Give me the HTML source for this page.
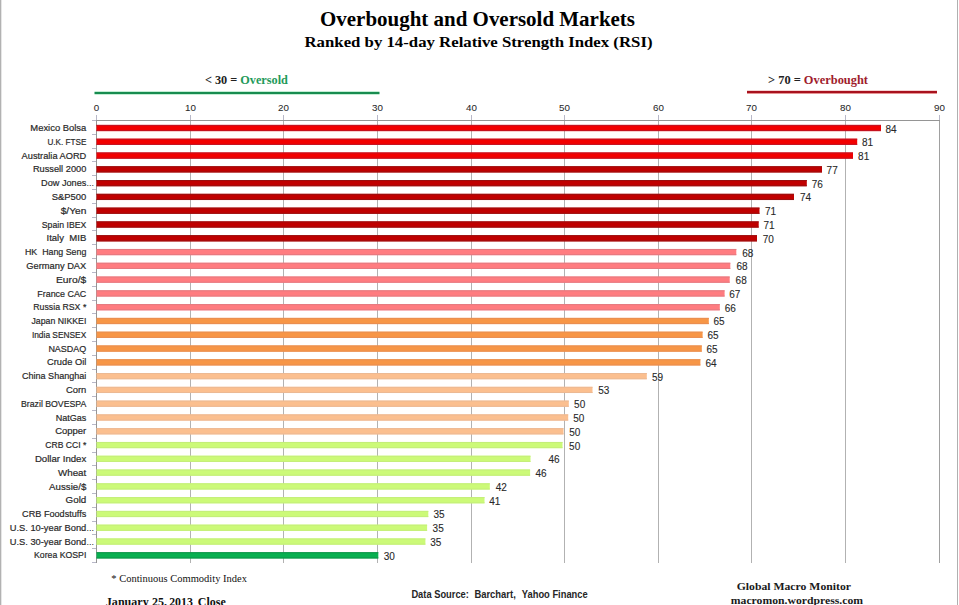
<!DOCTYPE html><html><head><meta charset="utf-8"><style>html,body{margin:0;padding:0;background:#fff;}svg{display:block;}</style></head><body>
<svg style="white-space:pre" width="959" height="605" viewBox="0 0 959 605">
<rect x="0" y="0" width="959" height="605" fill="#fff"/>
<rect x="0" y="0" width="1" height="605" fill="#b2b2b2"/>
<rect x="1" y="0" width="1" height="605" fill="#e6e6e6"/>
<rect x="957" y="0" width="1" height="605" fill="#b0b0b0"/>
<text x="320" y="26.4" font-family="Liberation Serif, serif" font-weight="bold" font-size="21.5" fill="#000" textLength="315" lengthAdjust="spacingAndGlyphs">Overbought and Oversold Markets</text>
<text x="304.5" y="46.6" font-family="Liberation Serif, serif" font-weight="bold" font-size="15.3" fill="#000" textLength="348" lengthAdjust="spacingAndGlyphs">Ranked by 14-day Relative Strength Index (RSI)</text>
<text x="204.9" y="83.7" font-family="Liberation Serif, serif" font-weight="bold" font-size="12.5" fill="#222" textLength="83" lengthAdjust="spacingAndGlyphs">&lt; 30 = <tspan fill="#1e9a5a">Oversold</tspan></text>
<rect x="94.5" y="91" width="285" height="1" fill="#c4eed4"/>
<rect x="94.5" y="94" width="285" height="1" fill="#c4eed4"/>
<rect x="94.5" y="92" width="285" height="2" fill="#188c50"/>
<text x="768" y="83.7" font-family="Liberation Serif, serif" font-weight="bold" font-size="12.5" fill="#222" textLength="100" lengthAdjust="spacingAndGlyphs">&gt; 70 = <tspan fill="#a01c2c">Overbought</tspan></text>
<rect x="747" y="90" width="190" height="1" fill="#f4d4d4"/>
<rect x="747" y="93" width="190" height="1" fill="#e69494"/>
<rect x="747" y="91" width="190" height="2" fill="#a8121e"/>
<rect x="96" y="115" width="1" height="6" fill="#b8b8c8"/>
<rect x="96" y="121" width="1" height="442" fill="#959595"/>
<text x="96.50" y="110.9" font-family="Liberation Sans, sans-serif" font-size="9.8" fill="#282828" stroke="#282828" stroke-width="0.05" text-anchor="middle">0</text>
<rect x="190" y="115" width="1" height="6" fill="#b8b8c8"/>
<rect x="190" y="121" width="1" height="442" fill="#b2b2b2"/>
<text x="190.50" y="110.9" font-family="Liberation Sans, sans-serif" font-size="9.8" fill="#282828" stroke="#282828" stroke-width="0.05" text-anchor="middle">10</text>
<rect x="283" y="115" width="1" height="6" fill="#b8b8c8"/>
<rect x="283" y="121" width="1" height="442" fill="#b2b2b2"/>
<text x="283.50" y="110.9" font-family="Liberation Sans, sans-serif" font-size="9.8" fill="#282828" stroke="#282828" stroke-width="0.05" text-anchor="middle">20</text>
<rect x="377" y="115" width="1" height="6" fill="#b8b8c8"/>
<rect x="377" y="121" width="1" height="442" fill="#b2b2b2"/>
<text x="377.50" y="110.9" font-family="Liberation Sans, sans-serif" font-size="9.8" fill="#282828" stroke="#282828" stroke-width="0.05" text-anchor="middle">30</text>
<rect x="471" y="115" width="1" height="6" fill="#b8b8c8"/>
<rect x="471" y="121" width="1" height="442" fill="#b2b2b2"/>
<text x="471.50" y="110.9" font-family="Liberation Sans, sans-serif" font-size="9.8" fill="#282828" stroke="#282828" stroke-width="0.05" text-anchor="middle">40</text>
<rect x="564" y="115" width="1" height="6" fill="#b8b8c8"/>
<rect x="564" y="121" width="1" height="442" fill="#b2b2b2"/>
<text x="564.50" y="110.9" font-family="Liberation Sans, sans-serif" font-size="9.8" fill="#282828" stroke="#282828" stroke-width="0.05" text-anchor="middle">50</text>
<rect x="658" y="115" width="1" height="6" fill="#b8b8c8"/>
<rect x="658" y="121" width="1" height="442" fill="#b2b2b2"/>
<text x="658.50" y="110.9" font-family="Liberation Sans, sans-serif" font-size="9.8" fill="#282828" stroke="#282828" stroke-width="0.05" text-anchor="middle">60</text>
<rect x="751" y="115" width="1" height="6" fill="#b8b8c8"/>
<rect x="751" y="121" width="1" height="442" fill="#b2b2b2"/>
<text x="751.50" y="110.9" font-family="Liberation Sans, sans-serif" font-size="9.8" fill="#282828" stroke="#282828" stroke-width="0.05" text-anchor="middle">70</text>
<rect x="845" y="115" width="1" height="6" fill="#b8b8c8"/>
<rect x="845" y="121" width="1" height="442" fill="#b2b2b2"/>
<text x="845.50" y="110.9" font-family="Liberation Sans, sans-serif" font-size="9.8" fill="#282828" stroke="#282828" stroke-width="0.05" text-anchor="middle">80</text>
<rect x="939" y="115" width="1" height="6" fill="#b8b8c8"/>
<rect x="939" y="121" width="1" height="442" fill="#a0a0a0"/>
<text x="939.50" y="110.9" font-family="Liberation Sans, sans-serif" font-size="9.8" fill="#282828" stroke="#282828" stroke-width="0.05" text-anchor="middle">90</text>
<rect x="92" y="120" width="848" height="1" fill="#959595"/>
<rect x="92" y="120" width="4" height="1" fill="#b8b8c8"/>
<rect x="92" y="134" width="4" height="1" fill="#b8b8c8"/>
<rect x="92" y="148" width="4" height="1" fill="#b8b8c8"/>
<rect x="92" y="161" width="4" height="1" fill="#b8b8c8"/>
<rect x="92" y="175" width="4" height="1" fill="#b8b8c8"/>
<rect x="92" y="189" width="4" height="1" fill="#b8b8c8"/>
<rect x="92" y="203" width="4" height="1" fill="#b8b8c8"/>
<rect x="92" y="217" width="4" height="1" fill="#b8b8c8"/>
<rect x="92" y="230" width="4" height="1" fill="#b8b8c8"/>
<rect x="92" y="244" width="4" height="1" fill="#b8b8c8"/>
<rect x="92" y="258" width="4" height="1" fill="#b8b8c8"/>
<rect x="92" y="272" width="4" height="1" fill="#b8b8c8"/>
<rect x="92" y="286" width="4" height="1" fill="#b8b8c8"/>
<rect x="92" y="300" width="4" height="1" fill="#b8b8c8"/>
<rect x="92" y="313" width="4" height="1" fill="#b8b8c8"/>
<rect x="92" y="327" width="4" height="1" fill="#b8b8c8"/>
<rect x="92" y="341" width="4" height="1" fill="#b8b8c8"/>
<rect x="92" y="355" width="4" height="1" fill="#b8b8c8"/>
<rect x="92" y="369" width="4" height="1" fill="#b8b8c8"/>
<rect x="92" y="382" width="4" height="1" fill="#b8b8c8"/>
<rect x="92" y="396" width="4" height="1" fill="#b8b8c8"/>
<rect x="92" y="410" width="4" height="1" fill="#b8b8c8"/>
<rect x="92" y="424" width="4" height="1" fill="#b8b8c8"/>
<rect x="92" y="438" width="4" height="1" fill="#b8b8c8"/>
<rect x="92" y="452" width="4" height="1" fill="#b8b8c8"/>
<rect x="92" y="465" width="4" height="1" fill="#b8b8c8"/>
<rect x="92" y="479" width="4" height="1" fill="#b8b8c8"/>
<rect x="92" y="493" width="4" height="1" fill="#b8b8c8"/>
<rect x="92" y="507" width="4" height="1" fill="#b8b8c8"/>
<rect x="92" y="521" width="4" height="1" fill="#b8b8c8"/>
<rect x="92" y="534" width="4" height="1" fill="#b8b8c8"/>
<rect x="92" y="548" width="4" height="1" fill="#b8b8c8"/>
<rect x="92" y="562" width="4" height="1" fill="#b8b8c8"/>
<rect x="96.5" y="124.90" width="784.50" height="6.2" fill="#f20000"/>
<rect x="96.5" y="124.90" width="784.50" height="1" fill="#c01424"/>
<rect x="96.5" y="130.10" width="784.50" height="1" fill="#c01424"/>
<text x="30.3" y="131.10" font-family="Liberation Sans, sans-serif" font-size="9.5" fill="#282828" stroke="#282828" stroke-width="0.2" textLength="56.0" lengthAdjust="spacingAndGlyphs">Mexico Bolsa</text>
<text x="885.5" y="132.50" font-family="Liberation Sans, sans-serif" font-size="10" fill="#282828" stroke="#282828" stroke-width="0.1">84</text>
<rect x="96.5" y="138.69" width="760.70" height="6.2" fill="#f20000"/>
<rect x="96.5" y="138.69" width="760.70" height="1" fill="#c01424"/>
<rect x="96.5" y="143.88" width="760.70" height="1" fill="#c01424"/>
<text x="47.5" y="144.88" font-family="Liberation Sans, sans-serif" font-size="9.5" fill="#282828" stroke="#282828" stroke-width="0.2" textLength="38.8" lengthAdjust="spacingAndGlyphs">U.K. FTSE</text>
<text x="862.0" y="146.28" font-family="Liberation Sans, sans-serif" font-size="10" fill="#282828" stroke="#282828" stroke-width="0.1">81</text>
<rect x="96.5" y="152.47" width="756.50" height="6.2" fill="#f20000"/>
<rect x="96.5" y="152.47" width="756.50" height="1" fill="#c01424"/>
<rect x="96.5" y="157.67" width="756.50" height="1" fill="#c01424"/>
<text x="21.6" y="158.67" font-family="Liberation Sans, sans-serif" font-size="9.5" fill="#282828" stroke="#282828" stroke-width="0.2" textLength="64.7" lengthAdjust="spacingAndGlyphs">Australia AORD</text>
<text x="858.1" y="160.07" font-family="Liberation Sans, sans-serif" font-size="10" fill="#282828" stroke="#282828" stroke-width="0.1">81</text>
<rect x="96.5" y="166.25" width="725.50" height="6.2" fill="#c00000"/>
<rect x="96.5" y="166.25" width="725.50" height="1" fill="#9a1010"/>
<rect x="96.5" y="171.45" width="725.50" height="1" fill="#9a1010"/>
<text x="32.9" y="172.45" font-family="Liberation Sans, sans-serif" font-size="9.5" fill="#282828" stroke="#282828" stroke-width="0.2" textLength="53.4" lengthAdjust="spacingAndGlyphs">Russell 2000</text>
<text x="826.6" y="173.85" font-family="Liberation Sans, sans-serif" font-size="10" fill="#282828" stroke="#282828" stroke-width="0.1">77</text>
<rect x="96.5" y="180.04" width="710.30" height="6.2" fill="#c00000"/>
<rect x="96.5" y="180.04" width="710.30" height="1" fill="#9a1010"/>
<rect x="96.5" y="185.24" width="710.30" height="1" fill="#9a1010"/>
<text x="41.1" y="186.24" font-family="Liberation Sans, sans-serif" font-size="9.5" fill="#282828" stroke="#282828" stroke-width="0.2" textLength="45.2" lengthAdjust="spacingAndGlyphs">Dow Jones</text>
<text x="86.5" y="186.24" font-family="Liberation Sans, sans-serif" font-size="9" fill="#282828">...</text>
<text x="811.8" y="187.64" font-family="Liberation Sans, sans-serif" font-size="10" fill="#282828" stroke="#282828" stroke-width="0.1">76</text>
<rect x="96.5" y="193.82" width="697.50" height="6.2" fill="#c00000"/>
<rect x="96.5" y="193.82" width="697.50" height="1" fill="#9a1010"/>
<rect x="96.5" y="199.02" width="697.50" height="1" fill="#9a1010"/>
<text x="51.7" y="200.02" font-family="Liberation Sans, sans-serif" font-size="9.5" fill="#282828" stroke="#282828" stroke-width="0.2" textLength="34.6" lengthAdjust="spacingAndGlyphs">S&amp;P500</text>
<text x="799.9" y="201.42" font-family="Liberation Sans, sans-serif" font-size="10" fill="#282828" stroke="#282828" stroke-width="0.1">74</text>
<rect x="96.5" y="207.61" width="663.00" height="6.2" fill="#c00000"/>
<rect x="96.5" y="207.61" width="663.00" height="1" fill="#9a1010"/>
<rect x="96.5" y="212.81" width="663.00" height="1" fill="#9a1010"/>
<text x="60.7" y="213.81" font-family="Liberation Sans, sans-serif" font-size="9.5" fill="#282828" stroke="#282828" stroke-width="0.2" textLength="25.6" lengthAdjust="spacingAndGlyphs">$/Yen</text>
<text x="764.9" y="215.21" font-family="Liberation Sans, sans-serif" font-size="10" fill="#282828" stroke="#282828" stroke-width="0.1">71</text>
<rect x="96.5" y="221.40" width="662.20" height="6.2" fill="#c00000"/>
<rect x="96.5" y="221.40" width="662.20" height="1" fill="#9a1010"/>
<rect x="96.5" y="226.59" width="662.20" height="1" fill="#9a1010"/>
<text x="41.8" y="227.59" font-family="Liberation Sans, sans-serif" font-size="9.5" fill="#282828" stroke="#282828" stroke-width="0.2" textLength="44.5" lengthAdjust="spacingAndGlyphs">Spain IBEX</text>
<text x="763.5" y="229.00" font-family="Liberation Sans, sans-serif" font-size="10" fill="#282828" stroke="#282828" stroke-width="0.1">71</text>
<rect x="96.5" y="235.18" width="660.50" height="6.2" fill="#c00000"/>
<rect x="96.5" y="235.18" width="660.50" height="1" fill="#9a1010"/>
<rect x="96.5" y="240.38" width="660.50" height="1" fill="#9a1010"/>
<text x="46.5" y="241.38" font-family="Liberation Sans, sans-serif" font-size="9.5" fill="#282828" stroke="#282828" stroke-width="0.2" textLength="39.8" lengthAdjust="spacingAndGlyphs">Italy&#160; MIB</text>
<text x="762.7" y="242.78" font-family="Liberation Sans, sans-serif" font-size="10" fill="#282828" stroke="#282828" stroke-width="0.1">70</text>
<rect x="96.5" y="248.97" width="639.80" height="6.2" fill="#ff7c80"/>
<rect x="96.5" y="248.97" width="639.80" height="1" fill="#e47a80"/>
<rect x="96.5" y="254.16" width="639.80" height="1" fill="#e47a80"/>
<text x="25.0" y="255.16" font-family="Liberation Sans, sans-serif" font-size="9.5" fill="#282828" stroke="#282828" stroke-width="0.2" textLength="61.3" lengthAdjust="spacingAndGlyphs">HK&#160; Hang Seng</text>
<text x="742.3" y="256.56" font-family="Liberation Sans, sans-serif" font-size="10" fill="#282828" stroke="#282828" stroke-width="0.1">68</text>
<rect x="96.5" y="262.75" width="633.80" height="6.2" fill="#ff7c80"/>
<rect x="96.5" y="262.75" width="633.80" height="1" fill="#e47a80"/>
<rect x="96.5" y="267.95" width="633.80" height="1" fill="#e47a80"/>
<text x="26.3" y="268.95" font-family="Liberation Sans, sans-serif" font-size="9.5" fill="#282828" stroke="#282828" stroke-width="0.2" textLength="60.0" lengthAdjust="spacingAndGlyphs">Germany DAX</text>
<text x="736.5" y="270.35" font-family="Liberation Sans, sans-serif" font-size="10" fill="#282828" stroke="#282828" stroke-width="0.1">68</text>
<rect x="96.5" y="276.53" width="633.20" height="6.2" fill="#ff7c80"/>
<rect x="96.5" y="276.53" width="633.20" height="1" fill="#e47a80"/>
<rect x="96.5" y="281.73" width="633.20" height="1" fill="#e47a80"/>
<text x="56.0" y="282.73" font-family="Liberation Sans, sans-serif" font-size="9.5" fill="#282828" stroke="#282828" stroke-width="0.2" textLength="30.3" lengthAdjust="spacingAndGlyphs">Euro/$</text>
<text x="735.6" y="284.13" font-family="Liberation Sans, sans-serif" font-size="10" fill="#282828" stroke="#282828" stroke-width="0.1">68</text>
<rect x="96.5" y="290.32" width="628.10" height="6.2" fill="#ff7c80"/>
<rect x="96.5" y="290.32" width="628.10" height="1" fill="#e47a80"/>
<rect x="96.5" y="295.52" width="628.10" height="1" fill="#e47a80"/>
<text x="37.3" y="296.52" font-family="Liberation Sans, sans-serif" font-size="9.5" fill="#282828" stroke="#282828" stroke-width="0.2" textLength="49.0" lengthAdjust="spacingAndGlyphs">France CAC</text>
<text x="729.3" y="297.92" font-family="Liberation Sans, sans-serif" font-size="10" fill="#282828" stroke="#282828" stroke-width="0.1">67</text>
<rect x="96.5" y="304.11" width="623.30" height="6.2" fill="#ff7c80"/>
<rect x="96.5" y="304.11" width="623.30" height="1" fill="#e47a80"/>
<rect x="96.5" y="309.31" width="623.30" height="1" fill="#e47a80"/>
<text x="33.3" y="310.31" font-family="Liberation Sans, sans-serif" font-size="9.5" fill="#282828" stroke="#282828" stroke-width="0.2" textLength="53.0" lengthAdjust="spacingAndGlyphs">Russia RSX *</text>
<text x="724.7" y="311.71" font-family="Liberation Sans, sans-serif" font-size="10" fill="#282828" stroke="#282828" stroke-width="0.1">66</text>
<rect x="96.5" y="317.89" width="612.30" height="6.2" fill="#f79646"/>
<rect x="96.5" y="317.89" width="612.30" height="1" fill="#e88e52"/>
<rect x="96.5" y="323.09" width="612.30" height="1" fill="#e88e52"/>
<text x="31.5" y="324.09" font-family="Liberation Sans, sans-serif" font-size="9.5" fill="#282828" stroke="#282828" stroke-width="0.2" textLength="54.8" lengthAdjust="spacingAndGlyphs">Japan NIKKEI</text>
<text x="713.5" y="325.49" font-family="Liberation Sans, sans-serif" font-size="10" fill="#282828" stroke="#282828" stroke-width="0.1">65</text>
<rect x="96.5" y="331.68" width="606.10" height="6.2" fill="#f79646"/>
<rect x="96.5" y="331.68" width="606.10" height="1" fill="#e88e52"/>
<rect x="96.5" y="336.88" width="606.10" height="1" fill="#e88e52"/>
<text x="31.9" y="337.88" font-family="Liberation Sans, sans-serif" font-size="9.5" fill="#282828" stroke="#282828" stroke-width="0.2" textLength="54.4" lengthAdjust="spacingAndGlyphs">India SENSEX</text>
<text x="707.4" y="339.28" font-family="Liberation Sans, sans-serif" font-size="10" fill="#282828" stroke="#282828" stroke-width="0.1">65</text>
<rect x="96.5" y="345.46" width="605.30" height="6.2" fill="#f79646"/>
<rect x="96.5" y="345.46" width="605.30" height="1" fill="#e88e52"/>
<rect x="96.5" y="350.66" width="605.30" height="1" fill="#e88e52"/>
<text x="48.4" y="351.66" font-family="Liberation Sans, sans-serif" font-size="9.5" fill="#282828" stroke="#282828" stroke-width="0.2" textLength="37.9" lengthAdjust="spacingAndGlyphs">NASDAQ</text>
<text x="706.4" y="353.06" font-family="Liberation Sans, sans-serif" font-size="10" fill="#282828" stroke="#282828" stroke-width="0.1">65</text>
<rect x="96.5" y="359.25" width="603.90" height="6.2" fill="#f79646"/>
<rect x="96.5" y="359.25" width="603.90" height="1" fill="#e88e52"/>
<rect x="96.5" y="364.44" width="603.90" height="1" fill="#e88e52"/>
<text x="47.0" y="365.44" font-family="Liberation Sans, sans-serif" font-size="9.5" fill="#282828" stroke="#282828" stroke-width="0.2" textLength="39.3" lengthAdjust="spacingAndGlyphs">Crude Oil</text>
<text x="705.4" y="366.85" font-family="Liberation Sans, sans-serif" font-size="10" fill="#282828" stroke="#282828" stroke-width="0.1">64</text>
<rect x="96.5" y="373.03" width="550.30" height="6.2" fill="#fbbf8f"/>
<rect x="96.5" y="373.03" width="550.30" height="1" fill="#ecb994"/>
<rect x="96.5" y="378.23" width="550.30" height="1" fill="#ecb994"/>
<text x="22.0" y="379.23" font-family="Liberation Sans, sans-serif" font-size="9.5" fill="#282828" stroke="#282828" stroke-width="0.2" textLength="64.3" lengthAdjust="spacingAndGlyphs">China Shanghai</text>
<text x="651.9" y="380.63" font-family="Liberation Sans, sans-serif" font-size="10" fill="#282828" stroke="#282828" stroke-width="0.1">59</text>
<rect x="96.5" y="386.82" width="496.00" height="6.2" fill="#fbbf8f"/>
<rect x="96.5" y="386.82" width="496.00" height="1" fill="#ecb994"/>
<rect x="96.5" y="392.02" width="496.00" height="1" fill="#ecb994"/>
<text x="65.9" y="393.02" font-family="Liberation Sans, sans-serif" font-size="9.5" fill="#282828" stroke="#282828" stroke-width="0.2" textLength="20.4" lengthAdjust="spacingAndGlyphs">Corn</text>
<text x="598.3" y="394.42" font-family="Liberation Sans, sans-serif" font-size="10" fill="#282828" stroke="#282828" stroke-width="0.1">53</text>
<rect x="96.5" y="400.60" width="472.30" height="6.2" fill="#fbbf8f"/>
<rect x="96.5" y="400.60" width="472.30" height="1" fill="#ecb994"/>
<rect x="96.5" y="405.80" width="472.30" height="1" fill="#ecb994"/>
<text x="21.0" y="406.80" font-family="Liberation Sans, sans-serif" font-size="9.5" fill="#282828" stroke="#282828" stroke-width="0.2" textLength="65.3" lengthAdjust="spacingAndGlyphs">Brazil BOVESPA</text>
<text x="574.1" y="408.20" font-family="Liberation Sans, sans-serif" font-size="10" fill="#282828" stroke="#282828" stroke-width="0.1">50</text>
<rect x="96.5" y="414.38" width="471.70" height="6.2" fill="#fbbf8f"/>
<rect x="96.5" y="414.38" width="471.70" height="1" fill="#ecb994"/>
<rect x="96.5" y="419.58" width="471.70" height="1" fill="#ecb994"/>
<text x="55.7" y="420.58" font-family="Liberation Sans, sans-serif" font-size="9.5" fill="#282828" stroke="#282828" stroke-width="0.2" textLength="30.6" lengthAdjust="spacingAndGlyphs">NatGas</text>
<text x="573.2" y="421.99" font-family="Liberation Sans, sans-serif" font-size="10" fill="#282828" stroke="#282828" stroke-width="0.1">50</text>
<rect x="96.5" y="428.17" width="467.00" height="6.2" fill="#fbbf8f"/>
<rect x="96.5" y="428.17" width="467.00" height="1" fill="#ecb994"/>
<rect x="96.5" y="433.37" width="467.00" height="1" fill="#ecb994"/>
<text x="55.2" y="434.37" font-family="Liberation Sans, sans-serif" font-size="9.5" fill="#282828" stroke="#282828" stroke-width="0.2" textLength="31.1" lengthAdjust="spacingAndGlyphs">Copper</text>
<text x="569.3" y="435.77" font-family="Liberation Sans, sans-serif" font-size="10" fill="#282828" stroke="#282828" stroke-width="0.1">50</text>
<rect x="96.5" y="441.96" width="466.00" height="6.2" fill="#ccfa78"/>
<rect x="96.5" y="441.96" width="466.00" height="1" fill="#c4ee7a"/>
<rect x="96.5" y="447.16" width="466.00" height="1" fill="#c4ee7a"/>
<text x="45.3" y="448.16" font-family="Liberation Sans, sans-serif" font-size="9.5" fill="#282828" stroke="#282828" stroke-width="0.2" textLength="41.0" lengthAdjust="spacingAndGlyphs">CRB CCI *</text>
<text x="569.1" y="449.56" font-family="Liberation Sans, sans-serif" font-size="10" fill="#282828" stroke="#282828" stroke-width="0.1">50</text>
<rect x="96.5" y="455.74" width="434.00" height="6.2" fill="#ccfa78"/>
<rect x="96.5" y="455.74" width="434.00" height="1" fill="#c4ee7a"/>
<rect x="96.5" y="460.94" width="434.00" height="1" fill="#c4ee7a"/>
<text x="34.9" y="461.94" font-family="Liberation Sans, sans-serif" font-size="9.5" fill="#282828" stroke="#282828" stroke-width="0.2" textLength="51.4" lengthAdjust="spacingAndGlyphs">Dollar Index</text>
<text x="548.5" y="463.34" font-family="Liberation Sans, sans-serif" font-size="10" fill="#282828" stroke="#282828" stroke-width="0.1">46</text>
<rect x="96.5" y="469.52" width="433.60" height="6.2" fill="#ccfa78"/>
<rect x="96.5" y="469.52" width="433.60" height="1" fill="#c4ee7a"/>
<rect x="96.5" y="474.72" width="433.60" height="1" fill="#c4ee7a"/>
<text x="58.0" y="475.72" font-family="Liberation Sans, sans-serif" font-size="9.5" fill="#282828" stroke="#282828" stroke-width="0.2" textLength="28.3" lengthAdjust="spacingAndGlyphs">Wheat</text>
<text x="535.5" y="477.12" font-family="Liberation Sans, sans-serif" font-size="10" fill="#282828" stroke="#282828" stroke-width="0.1">46</text>
<rect x="96.5" y="483.31" width="393.30" height="6.2" fill="#ccfa78"/>
<rect x="96.5" y="483.31" width="393.30" height="1" fill="#c4ee7a"/>
<rect x="96.5" y="488.51" width="393.30" height="1" fill="#c4ee7a"/>
<text x="49.1" y="489.51" font-family="Liberation Sans, sans-serif" font-size="9.5" fill="#282828" stroke="#282828" stroke-width="0.2" textLength="37.2" lengthAdjust="spacingAndGlyphs">Aussie/$</text>
<text x="495.7" y="490.91" font-family="Liberation Sans, sans-serif" font-size="10" fill="#282828" stroke="#282828" stroke-width="0.1">42</text>
<rect x="96.5" y="497.10" width="388.00" height="6.2" fill="#ccfa78"/>
<rect x="96.5" y="497.10" width="388.00" height="1" fill="#c4ee7a"/>
<rect x="96.5" y="502.30" width="388.00" height="1" fill="#c4ee7a"/>
<text x="65.6" y="503.30" font-family="Liberation Sans, sans-serif" font-size="9.5" fill="#282828" stroke="#282828" stroke-width="0.2" textLength="20.7" lengthAdjust="spacingAndGlyphs">Gold</text>
<text x="489.3" y="504.70" font-family="Liberation Sans, sans-serif" font-size="10" fill="#282828" stroke="#282828" stroke-width="0.1">41</text>
<rect x="96.5" y="510.88" width="331.80" height="6.2" fill="#ccfa78"/>
<rect x="96.5" y="510.88" width="331.80" height="1" fill="#c4ee7a"/>
<rect x="96.5" y="516.08" width="331.80" height="1" fill="#c4ee7a"/>
<text x="22.1" y="517.08" font-family="Liberation Sans, sans-serif" font-size="9.5" fill="#282828" stroke="#282828" stroke-width="0.2" textLength="64.2" lengthAdjust="spacingAndGlyphs">CRB Foodstuffs</text>
<text x="433.5" y="518.48" font-family="Liberation Sans, sans-serif" font-size="10" fill="#282828" stroke="#282828" stroke-width="0.1">35</text>
<rect x="96.5" y="524.66" width="330.60" height="6.2" fill="#ccfa78"/>
<rect x="96.5" y="524.66" width="330.60" height="1" fill="#c4ee7a"/>
<rect x="96.5" y="529.87" width="330.60" height="1" fill="#c4ee7a"/>
<text x="9.7" y="530.87" font-family="Liberation Sans, sans-serif" font-size="9.5" fill="#282828" stroke="#282828" stroke-width="0.2" textLength="76.6" lengthAdjust="spacingAndGlyphs">U.S. 10-year Bond</text>
<text x="86.5" y="530.87" font-family="Liberation Sans, sans-serif" font-size="9" fill="#282828">...</text>
<text x="432.6" y="532.26" font-family="Liberation Sans, sans-serif" font-size="10" fill="#282828" stroke="#282828" stroke-width="0.1">35</text>
<rect x="96.5" y="538.45" width="328.90" height="6.2" fill="#ccfa78"/>
<rect x="96.5" y="538.45" width="328.90" height="1" fill="#c4ee7a"/>
<rect x="96.5" y="543.65" width="328.90" height="1" fill="#c4ee7a"/>
<text x="9.7" y="544.65" font-family="Liberation Sans, sans-serif" font-size="9.5" fill="#282828" stroke="#282828" stroke-width="0.2" textLength="76.6" lengthAdjust="spacingAndGlyphs">U.S. 30-year Bond</text>
<text x="86.5" y="544.65" font-family="Liberation Sans, sans-serif" font-size="9" fill="#282828">...</text>
<text x="430.3" y="546.05" font-family="Liberation Sans, sans-serif" font-size="10" fill="#282828" stroke="#282828" stroke-width="0.1">35</text>
<rect x="96.5" y="552.24" width="281.80" height="6.2" fill="#08b050"/>
<rect x="96.5" y="552.24" width="281.80" height="1" fill="#10924a"/>
<rect x="96.5" y="557.44" width="281.80" height="1" fill="#10924a"/>
<text x="34.0" y="558.44" font-family="Liberation Sans, sans-serif" font-size="9.5" fill="#282828" stroke="#282828" stroke-width="0.2" textLength="52.3" lengthAdjust="spacingAndGlyphs">Korea KOSPI</text>
<text x="383.8" y="559.84" font-family="Liberation Sans, sans-serif" font-size="10" fill="#282828" stroke="#282828" stroke-width="0.1">30</text>
<text x="111.3" y="582.2" font-family="Liberation Serif, serif" font-size="10.5" fill="#111" textLength="135.7" lengthAdjust="spacingAndGlyphs">* Continuous Commodity Index</text>
<text x="105.8" y="605.8" font-family="Liberation Serif, serif" font-weight="bold" font-size="12" fill="#111" textLength="43.0" lengthAdjust="spacingAndGlyphs">January</text>
<text x="152.0" y="605.8" font-family="Liberation Serif, serif" font-weight="bold" font-size="12" fill="#111" textLength="15.0" lengthAdjust="spacingAndGlyphs">25,</text>
<text x="169.2" y="605.8" font-family="Liberation Serif, serif" font-weight="bold" font-size="12" fill="#111" textLength="23.6" lengthAdjust="spacingAndGlyphs">2013</text>
<text x="197.8" y="605.8" font-family="Liberation Serif, serif" font-weight="bold" font-size="12" fill="#111" textLength="28.0" lengthAdjust="spacingAndGlyphs">Close</text>
<text x="411.4" y="597.9" font-family="Liberation Sans, sans-serif" font-weight="bold" font-size="10.5" fill="#262626" textLength="57.5" lengthAdjust="spacingAndGlyphs">Data Source:</text>
<text x="474.4" y="597.9" font-family="Liberation Sans, sans-serif" font-weight="bold" font-size="10.5" fill="#262626" textLength="41.4" lengthAdjust="spacingAndGlyphs">Barchart,</text>
<text x="521.8" y="597.9" font-family="Liberation Sans, sans-serif" font-weight="bold" font-size="10.5" fill="#262626" textLength="65.9" lengthAdjust="spacingAndGlyphs">Yahoo Finance</text>
<text x="736.7" y="589.9" font-family="Liberation Serif, serif" font-weight="bold" font-size="11" fill="#1a1a1a" textLength="114.3" lengthAdjust="spacingAndGlyphs">Global Macro Monitor</text>
<text x="730.8" y="603.5" font-family="Liberation Serif, serif" font-weight="bold" font-size="11" fill="#1a1a1a" textLength="132.3" lengthAdjust="spacingAndGlyphs">macromon.wordpress.com</text>
</svg></body></html>
